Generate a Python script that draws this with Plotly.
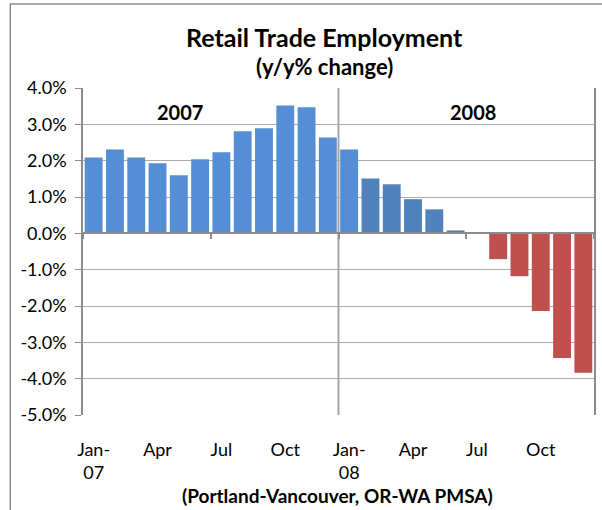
import plotly.graph_objects as go

# ---- data ----
months = ["Jan-07", "Feb-07", "Mar-07", "Apr-07", "May-07", "Jun-07",
          "Jul-07", "Aug-07", "Sep-07", "Oct-07", "Nov-07", "Dec-07",
          "Jan-08", "Feb-08", "Mar-08", "Apr-08", "May-08", "Jun-08",
          "Jul-08", "Aug-08", "Sep-08", "Oct-08", "Nov-08", "Dec-08"]
pct_change = [2.09, 2.31, 2.09, 1.93, 1.60, 2.04, 2.23, 2.81, 2.89, 3.52, 3.47, 2.64,
              2.31, 1.51, 1.35, 0.94, 0.66, 0.08, 0.00, -0.71, -1.18, -2.14, -3.43, -3.84]
x_tick_idx = [0, 3, 6, 9, 12, 15, 18, 21]
x_tick_text = ["Jan-<br>07", "Apr", "Jul", "Oct", "Jan-<br>08", "Apr", "Jul", "Oct"]
y_tick_vals = [4, 3, 2, 1, 0, -1, -2, -3, -4, -5]
y_tick_text = ["4.0%", "3.0%", "2.0%", "1.0%", "0.0%", "-1.0%", "-2.0%", "-3.0%", "-4.0%", "-5.0%"]
year_labels = ["2007", "2008"]

# ---- styles ----
LIGHT = "#558ED5"
DARK = "#4F81BD"
RED = "#C0504D"
GRID = "#ABABAB"
AXIS = "#8C8C8C"
FONT = "Lato"

n = len(months)
x = list(range(n))
first_year_len = 12
colors = []
for i, v in enumerate(pct_change):
    if v < 0:
        colors.append(RED)
    elif i <= first_year_len:
        colors.append(LIGHT)
    else:
        colors.append(DARK)

W, H = 602, 510
L, R, T, B = 83, 6, 88, 95
pw, ph = W - L - R, H - T - B


def px_x(p):
    return (p - L) / pw


def px_y(p):
    return (H - B - p) / ph


fig = go.Figure()
fig.add_trace(go.Bar(x=x, y=pct_change, marker=dict(color=colors, line=dict(width=0)),
                     hovertext=months, showlegend=False))
fig.add_trace(go.Scatter(x=[x[0]], y=[0], xaxis="x2", mode="markers",
                         marker=dict(opacity=0), showlegend=False, hoverinfo="skip"))

ymin, ymax = min(y_tick_vals), max(y_tick_vals)

fig.update_layout(
    width=W, height=H,
    margin=dict(l=L, r=R, t=T, b=B),
    paper_bgcolor="white", plot_bgcolor="white",
    bargap=0.16,
    font=dict(family=FONT, size=18, color="black"),
    xaxis=dict(range=[-0.5, n - 0.5], tickvals=x_tick_idx, ticktext=x_tick_text,
               showgrid=False, zeroline=False, showline=False, ticks="",
               tickfont=dict(family=FONT, size=18), ticklabelstandoff=22),
    xaxis2=dict(range=[-0.5, n - 0.5], overlaying="x", anchor="free",
                position=(0 - ymin) / (ymax - ymin), side="bottom",
                tickvals=[-0.5, first_year_len / 2 - 0.5, first_year_len - 0.5,
                          first_year_len * 1.5 - 0.5, n - 0.5],
                ticks="outside", ticklen=5, tickcolor=AXIS, tickwidth=1.5,
                showticklabels=False, showgrid=False, zeroline=False,
                showline=True, linecolor=AXIS, linewidth=1.5),
    yaxis=dict(range=[ymin, ymax], tickvals=y_tick_vals, ticktext=y_tick_text,
               showgrid=True, gridcolor=GRID, gridwidth=1.3, zeroline=False,
               showline=True, linecolor=AXIS, linewidth=1.5, mirror=True,
               ticks="outside", ticklen=6, tickcolor=AXIS, tickwidth=1.3,
               tickfont=dict(family=FONT, size=18), ticklabelstandoff=5),
)

# year divider
fig.add_vline(x=first_year_len - 0.5, line=dict(color="#A6A6A6", width=2), layer="below")

# outer chart border
fig.add_shape(type="rect", xref="paper", yref="paper",
              x0=px_x(10), x1=px_x(W + 10), y0=px_y(H + 10), y1=px_y(4),
              line=dict(color="#8C8C8C", width=1.5), fillcolor="rgba(0,0,0,0)")

ann = [
    dict(text="<b>Retail Trade Employment</b>", x=px_x(325), y=px_y(37), size=25),
    dict(text="<b>(y/y% change)</b>", x=px_x(325), y=px_y(67), size=22),
    dict(text="<b>" + year_labels[0] + "</b>", x=px_x(180.5), y=px_y(111.7), size=20),
    dict(text="<b>" + year_labels[1] + "</b>", x=px_x(474.5), y=px_y(111.7), size=20),
    dict(text="<b>(Portland-Vancouver, OR-WA PMSA)</b>", x=px_x(338), y=px_y(495), size=19),
]
for a in ann:
    fig.add_annotation(text=a["text"], x=a["x"], y=a["y"], xref="paper", yref="paper",
                       xanchor="center", yanchor="middle", showarrow=False,
                       font=dict(family=FONT, size=a["size"], color="black"))

fig.write_html("out.html", config={"displayModeBar": False},
               post_script="document.body.style.margin='0';")
